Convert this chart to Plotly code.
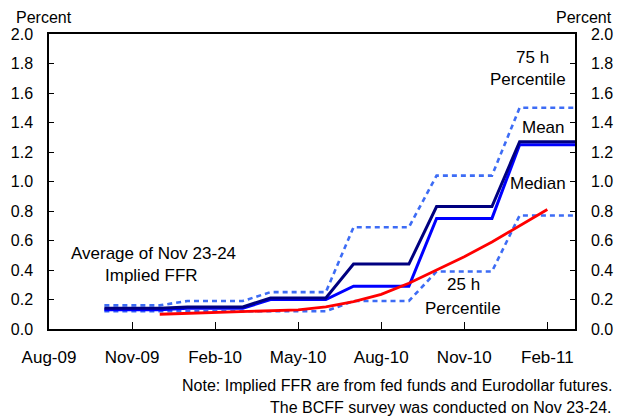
import plotly.graph_objects as go

# ---------------- data ----------------
survey_months = ["2009-10", "2009-11", "2009-12", "2010-01", "2010-02", "2010-03",
                 "2010-04", "2010-05", "2010-06", "2010-07", "2010-08", "2010-09",
                 "2010-10", "2010-11", "2010-12", "2011-01", "2011-02", "2011-03"]
mean_vals = [0.14, 0.14, 0.14, 0.15, 0.15, 0.15, 0.21, 0.21, 0.21,
             0.44, 0.44, 0.44, 0.83, 0.83, 0.83, 1.27, 1.27, 1.27]
median_vals = [0.13, 0.13, 0.13, 0.14, 0.14, 0.14, 0.20, 0.20, 0.20,
               0.29, 0.29, 0.29, 0.75, 0.75, 0.75, 1.25, 1.25, 1.25]
p75_vals = [0.16, 0.16, 0.16, 0.19, 0.19, 0.19, 0.25, 0.25, 0.25,
            0.69, 0.69, 0.69, 1.04, 1.04, 1.04, 1.50, 1.50, 1.50]
p25_vals = [0.12, 0.12, 0.12, 0.12, 0.12, 0.12, 0.12, 0.12, 0.12,
            0.19, 0.19, 0.19, 0.39, 0.39, 0.39, 0.77, 0.77, 0.77]

ffr_months = ["2009-12", "2010-01", "2010-02", "2010-03", "2010-04", "2010-05",
              "2010-06", "2010-07", "2010-08", "2010-09", "2010-10", "2010-11",
              "2010-12", "2011-01", "2011-02"]
ffr_vals = [0.10, 0.105, 0.11, 0.115, 0.12, 0.13, 0.15, 0.185, 0.235,
            0.31, 0.40, 0.49, 0.59, 0.70, 0.81]

tick_months = ["2009-08", "2009-11", "2010-02", "2010-05", "2010-08", "2010-11", "2011-02"]
tick_labels = ["Aug-09", "Nov-09", "Feb-10", "May-10", "Aug-10", "Nov-10", "Feb-11"]
y_ticks = [0.0, 0.2, 0.4, 0.6, 0.8, 1.0, 1.2, 1.4, 1.6, 1.8, 2.0]

AXIS_START = "2009-08"
AXIS_END = "2011-03"


def midx(s):
    y0, m0 = map(int, AXIS_START.split("-"))
    y, m = map(int, s.split("-"))
    return (y - y0) * 12 + (m - m0)


FONT = "Liberation Sans, Arial, sans-serif"

# the page body has an 8px margin, so the figure is offset by 8px
OFF = 8
W, H = 624 - OFF, 417 - OFF
L, R, T, B = 49 - OFF, 575 - OFF, 34 - OFF, 329 - OFF

fig = go.Figure()
dot_style = dict(color="#3d6cf5", width=2.6, dash="5px,4px")
fig.add_trace(go.Scatter(x=[midx(m) for m in survey_months], y=p75_vals, mode="lines",
                         line=dot_style, name="75th Percentile"))
fig.add_trace(go.Scatter(x=[midx(m) for m in survey_months], y=p25_vals, mode="lines",
                         line=dot_style, name="25th Percentile"))
fig.add_trace(go.Scatter(x=[midx(m) for m in survey_months], y=median_vals, mode="lines",
                         line=dict(color="#0000ff", width=3), name="Median"))
fig.add_trace(go.Scatter(x=[midx(m) for m in survey_months], y=mean_vals, mode="lines",
                         line=dict(color="#000080", width=3), name="Mean"))
fig.add_trace(go.Scatter(x=[midx(m) for m in ffr_months], y=ffr_vals, mode="lines",
                         line=dict(color="#ff0000", width=2.8), name="Implied FFR"))

axis_common = dict(showgrid=False, zeroline=False, showline=True, linecolor="black",
                   linewidth=1.5, ticks="inside", tickcolor="black", automargin=False)

fig.update_layout(
    width=W, height=H,
    margin=dict(l=L, r=W - R, t=T, b=H - B, autoexpand=False),
    paper_bgcolor="white", plot_bgcolor="white",
    showlegend=False,
    font=dict(family=FONT, size=17, color="black"),
    xaxis=dict(range=[0, midx(AXIS_END)], tickmode="array",
               tickvals=[midx(m) for m in tick_months], ticktext=tick_labels,
               ticklen=7, mirror=True, ticklabelstandoff=12,
               tickfont=dict(family=FONT, size=17, color="black"), **axis_common),
    yaxis=dict(range=[0, 2.0], tickmode="array", tickvals=y_ticks,
               ticktext=[f"{v:.1f}" for v in y_ticks], ticklen=5,
               ticklabelstandoff=11,
               tickfont=dict(family=FONT, size=16, color="black"), **axis_common),
    yaxis2=dict(range=[0, 2.0], overlaying="y", side="right", tickmode="array",
                tickvals=y_ticks, ticktext=[f"{v:.1f}" for v in y_ticks], ticklen=5,
                ticklabelstandoff=11,
                tickfont=dict(family=FONT, size=16, color="black"), **axis_common),
)

# dummy trace so the right axis is drawn
fig.add_trace(go.Scatter(x=[0], y=[0], yaxis="y2", mode="markers",
                         marker=dict(opacity=0), hoverinfo="skip", showlegend=False))


def px(xp):
    return (xp - OFF - L) / (R - L)


def py(yp):
    return (B - (yp - OFF)) / (B - T)


def ann(text, x, y, xanchor="center", size=17):
    fig.add_annotation(text=text, x=px(x), y=py(y), xref="paper", yref="paper",
                       showarrow=False, xanchor=xanchor, yanchor="middle",
                       borderpad=0, font=dict(family=FONT, size=size, color="black"))


# positions given in page pixels
ann("Percent", 44, 17, size=16)
ann("Percent", 584, 17, size=16)
ann("Average of Nov 23-24", 153, 253)
ann("Implied FFR", 151, 275)
ann("75 h", 532, 57)
ann("Percentile", 528, 79)
ann("Mean", 543, 127)
ann("Median", 538, 183)
ann("25 h", 463, 284)
ann("Percentile", 463, 308)
ann("Note: Implied FFR are from fed funds and Eurodollar futures.", 613, 385,
    xanchor="right", size=16)
ann("The BCFF survey was conducted on Nov 23-24.", 613, 407, xanchor="right", size=16)

fig.write_html("out.html")
